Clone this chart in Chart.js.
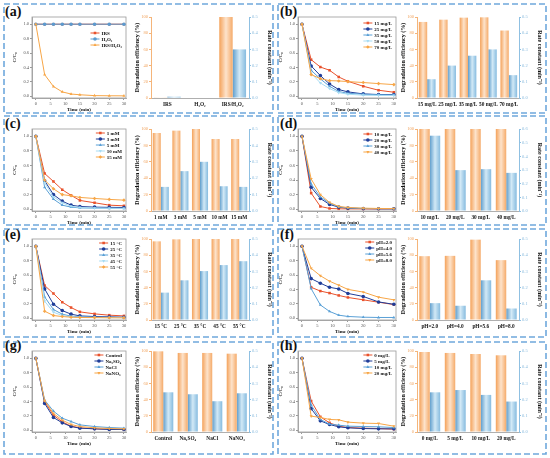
<!DOCTYPE html>
<html>
<head>
<meta charset="utf-8">
<script src="https://cdn.jsdelivr.net/npm/chart.js@4.4.1/dist/chart.umd.min.js"></script>
<style>
  body { margin: 0; width: 550px; height: 458px; background: #fff; position: relative; overflow: hidden; }
  canvas { position: absolute; }
  .tag { position: absolute; font: bold 14px "Liberation Serif", serif; color: #111; line-height: 14px; }
  #frames { position: absolute; left: 0; top: 0; }
</style>
</head>
<body>
<svg id="frames" width="550" height="458"></svg>
<script>
const times = [0, 3, 6, 9, 12, 15, 20, 25, 30];
const timeTicks = [0, 5, 10, 15, 20, 25, 30];
const ratioTicks = [0, 0.2, 0.4, 0.6, 0.8, 1.0];
const effTicks = [0, 20, 40, 60, 80, 100];
const rateTicks5 = [0, 0.1, 0.2, 0.3, 0.4, 0.5];
const rateTicks6 = [0, 0.1, 0.2, 0.3, 0.4, 0.5, 0.6];

// (a)
const aSeries = ['IRS', 'H₂O₂', 'IRS/H₂O₂'];
const aCurves = [
  [1, 1, 1, 1, 1, 1, 1, 1, 1],
  [1, 1, 1, 1, 1, 1, 1, 1, 1],
  [1, 0.30, 0.135, 0.06, 0.03, 0.02, 0.008, 0.006, 0.005]
];
const aEff = [0.8, 0.6, 100];
const aRate = [0.008, 0.003, 0.30];

// (b)
const bSeries = ['15 mg/L', '25 mg/L', '35 mg/L', '50 mg/L', '70 mg/L'];
const bCurves = [
  [1, 0.507, 0.405, 0.36, 0.267, 0.207, 0.138, 0.083, 0.055],
  [1, 0.42, 0.286, 0.17, 0.092, 0.06, 0.032, 0.023, 0.023],
  [1, 0.36, 0.24, 0.138, 0.065, 0.04, 0.028, 0.02, 0.018],
  [1, 0.32, 0.184, 0.106, 0.05, 0.028, 0.014, 0.01, 0.01],
  [1, 0.30, 0.244, 0.216, 0.212, 0.203, 0.19, 0.175, 0.161]
];
const bEff = [93.9, 96.7, 99.2, 99.6, 83.3];
const bRate = [0.116, 0.20, 0.261, 0.30, 0.141];

// (c)
const cSeries = ['1 mM', '3 mM', '5 mM', '10 mM', '15 mM'];
const cCurves = [
  [1, 0.49, 0.38, 0.267, 0.19, 0.12, 0.088, 0.055, 0.046],
  [1, 0.39, 0.20, 0.11, 0.055, 0.037, 0.028, 0.025, 0.023],
  [1, 0.30, 0.138, 0.055, 0.028, 0.018, 0.014, 0.012, 0.012],
  [1, 0.36, 0.17, 0.088, 0.04, 0.023, 0.015, 0.012, 0.01],
  [1, 0.40, 0.28, 0.20, 0.184, 0.161, 0.147, 0.134, 0.124]
];
const cEff = [95.1, 98, 100, 87.8, 87.8];
const cRate = [0.147, 0.243, 0.30, 0.151, 0.147];

// (d)
const dSeries = ['10 mg/L', '20 mg/L', '30 mg/L', '40 mg/L'];
const dCurves = [
  [1, 0.22, 0.037, 0.01, 0.005, 0.004, 0.003, 0.003, 0.003],
  [1, 0.30, 0.147, 0.065, 0.028, 0.014, 0.008, 0.005, 0.005],
  [1, 0.345, 0.17, 0.083, 0.032, 0.018, 0.01, 0.008, 0.006],
  [1, 0.415, 0.20, 0.092, 0.037, 0.023, 0.014, 0.01, 0.008]
];
const dEff = [100, 100, 100, 100];
const dRate = [0.551, 0.299, 0.306, 0.279];

// (e)
const eSeries = ['15 °C', '25 °C', '35 °C', '45 °C', '55 °C'];
const eCurves = [
  [1, 0.454, 0.343, 0.222, 0.148, 0.088, 0.06, 0.042, 0.032],
  [1, 0.407, 0.194, 0.106, 0.056, 0.032, 0.023, 0.019, 0.014],
  [1, 0.296, 0.12, 0.056, 0.028, 0.019, 0.014, 0.012, 0.01],
  [1, 0.236, 0.083, 0.037, 0.019, 0.012, 0.01, 0.008, 0.008],
  [1, 0.097, 0.037, 0.023, 0.014, 0.01, 0.008, 0.006, 0.005]
];
const eEff = [97.1, 99.6, 100, 100, 100];
const eRate = [0.169, 0.245, 0.302, 0.339, 0.363];

// (f)
const fSeries = ['pH=2.0', 'pH=4.0', 'pH=5.6', 'pH=8.0'];
const fCurves = [
  [1, 0.429, 0.377, 0.349, 0.316, 0.288, 0.255, 0.222, 0.189],
  [1, 0.55, 0.486, 0.429, 0.406, 0.344, 0.302, 0.226, 0.193],
  [1, 0.41, 0.184, 0.094, 0.042, 0.024, 0.014, 0.01, 0.01],
  [1, 0.693, 0.59, 0.514, 0.458, 0.40, 0.363, 0.292, 0.255]
];
const fEff = [78.8, 79.2, 99.2, 73.9];
const fRate = [0.104, 0.088, 0.245, 0.071];

// (g)
const gSeries = ['Control', 'Na₂SO₄', 'NaCl', 'NaNO₃'];
const gCurves = [
  [1, 0.395, 0.209, 0.116, 0.056, 0.033, 0.019, 0.014, 0.01],
  [1, 0.372, 0.177, 0.102, 0.051, 0.028, 0.019, 0.01, 0.01],
  [1, 0.419, 0.265, 0.167, 0.121, 0.074, 0.051, 0.037, 0.028],
  [1, 0.41, 0.233, 0.14, 0.079, 0.051, 0.033, 0.023, 0.019]
];
const gEff = [99.6, 97.6, 97.6, 96.7];
const gRate = [0.245, 0.233, 0.19, 0.239];

// (h)
const hSeries = ['0 mg/L', '5 mg/L', '10 mg/L', '20 mg/L'];
const hCurves = [
  [1, 0.405, 0.186, 0.102, 0.056, 0.037, 0.028, 0.023, 0.014],
  [1, 0.30, 0.13, 0.079, 0.047, 0.033, 0.023, 0.019, 0.019],
  [1, 0.349, 0.149, 0.084, 0.07, 0.056, 0.051, 0.047, 0.037],
  [1, 0.195, 0.177, 0.149, 0.144, 0.112, 0.098, 0.093, 0.056]
];
const hEff = [98.8, 97.6, 96.3, 94.7];
const hRate = [0.245, 0.259, 0.229, 0.188];

const SERIF = '"Liberation Serif", "Times New Roman", serif';
Chart.defaults.font.family = SERIF;

const RED = '#e9522c', NAVY = '#1f3d99', SKY = '#5aa0d6', PALE = '#a7dcf3', ORANGE = '#f7a647', MID = '#5b9bd0';
const pal3 = [RED, MID, ORANGE];
const pal4 = [RED, NAVY, SKY, ORANGE];
const pal5 = [RED, NAVY, SKY, PALE, ORANGE];
const mk3 = [['rect', 0], ['circle', 0], ['triangle', 0]];
const mk4 = [['rect', 0], ['circle', 0], ['triangle', 0], ['triangle', 180]];
const mk5 = [['rect', 0], ['circle', 0], ['triangle', 0], ['triangle', 180], ['rectRot', 0]];

const panels = [
  { tag: '(a)', series: aSeries, curves: aCurves, eff: aEff, rate: aRate, rTicks: rateTicks5, col: 0, row: 0, pal: pal3, mk: mk3, legTop: 16 },
  { tag: '(b)', series: bSeries, curves: bCurves, eff: bEff, rate: bRate, rTicks: rateTicks5, col: 1, row: 0, pal: pal5, mk: mk5, legTop: 6 },
  { tag: '(c)', series: cSeries, curves: cCurves, eff: cEff, rate: cRate, rTicks: rateTicks5, col: 0, row: 1, pal: pal5, mk: mk5, legTop: 4 },
  { tag: '(d)', series: dSeries, curves: dCurves, eff: dEff, rate: dRate, rTicks: rateTicks6, col: 1, row: 1, pal: pal4, mk: mk4, legTop: 5 },
  { tag: '(e)', series: eSeries, curves: eCurves, eff: eEff, rate: eRate, rTicks: rateTicks5, col: 0, row: 2, pal: pal5, mk: mk5, legTop: 4 },
  { tag: '(f)', series: fSeries, curves: fCurves, eff: fEff, rate: fRate, rTicks: rateTicks5, col: 1, row: 2, pal: pal4, mk: mk4, legTop: 3 },
  { tag: '(g)', series: gSeries, curves: gCurves, eff: gEff, rate: gRate, rTicks: rateTicks5, col: 0, row: 3, pal: pal4, mk: mk4, legTop: 4 },
  { tag: '(h)', series: hSeries, curves: hCurves, eff: hEff, rate: hRate, rTicks: rateTicks5, col: 1, row: 3, pal: pal4, mk: mk4, legTop: 4 }
];

// layout (page pixels)
const lineCols = [[32, 127], [298, 397]];
const barCols = [[151, 249], [417, 519]];
const plotRows = [[17, 98], [129, 211], [239, 320], [351, 432]];
const frameCols = [[4, 273], [278, 546]];
const frameRows = [[4, 113], [116, 225], [229, 337], [342, 454]];
const tagPos = [[5, 6], [280, 6]];
const tagRows = [5, 117, 228, 339];
const CAT = 0.82;

const boxFrame = {
  id: 'boxFrame',
  beforeDatasetsDraw(chart) {
    const a = chart.chartArea, c = chart.ctx;
    c.save();
    c.strokeStyle = '#9a9a9a';
    c.lineWidth = 0.8;
    c.strokeRect(a.left, a.top, a.right - a.left, a.bottom - a.top);
    c.restore();
  }
};

const inLegend = {
  id: 'inLegend',
  afterDatasetsDraw(chart, args, opts) {
    const { ctx, chartArea } = chart;
    const sets = chart.data.datasets;
    ctx.save();
    ctx.font = 'bold 5px ' + SERIF;
    const tw = Math.max(...sets.map(d => ctx.measureText(d.label).width));
    const x0 = chartArea.right - 3 - tw - 12;
    sets.forEach((d, i) => {
      const y = chartArea.top + opts.top + i * 6;
      ctx.strokeStyle = d.borderColor;
      ctx.lineWidth = 1;
      ctx.beginPath();
      ctx.moveTo(x0, y);
      ctx.lineTo(x0 + 9, y);
      ctx.stroke();
      ctx.fillStyle = d.borderColor;
      Chart.helpers.drawPoint(ctx, { pointStyle: d.pointStyle, radius: 1.8, rotation: d.pointRotation, borderWidth: 0 }, x0 + 4.5, y);
      ctx.fillStyle = '#111';
      ctx.textBaseline = 'middle';
      ctx.fillText(d.label, x0 + 11, y + 0.3);
    });
    ctx.restore();
  }
};

function barFill(c, stops) {
  const chart = c.chart, xs = chart.scales.x;
  if (!xs || c.dataIndex === undefined) return stops[0];
  const mid = xs.getPixelForValue(c.dataIndex);
  const cat = (xs.right - xs.left) / chart.data.labels.length * CAT;
  if (!isFinite(mid) || !isFinite(cat)) return stops[0];
  const x0 = c.datasetIndex === 0 ? mid - cat / 2 : mid;
  const g = chart.ctx.createLinearGradient(x0, 0, x0 + cat / 2, 0);
  g.addColorStop(0, stops[0]);
  g.addColorStop(0.5, stops[1]);
  g.addColorStop(1, stops[2]);
  return g;
}
const orangeStops = ['#f4a25a', '#fde3cb', '#f5ab6a'];
const blueStops = ['#5e9dcc', '#d2e9f6', '#86bbdf'];

function makeCanvas(left, top, w, h) {
  const cv = document.createElement('canvas');
  cv.width = w; cv.height = h;
  cv.style.left = left + 'px'; cv.style.top = top + 'px';
  cv.style.width = w + 'px'; cv.style.height = h + 'px';
  document.body.appendChild(cv);
  return cv;
}

const tickFont = { family: SERIF, size: 4.5 };
const svg = document.getElementById('frames');

panels.forEach(p => {
  const [pt, pb] = plotRows[p.row];

  // dashed panel frame
  const [fx0, fx1] = frameCols[p.col], [fy0, fy1] = frameRows[p.row];
  const r = document.createElementNS('http://www.w3.org/2000/svg', 'rect');
  r.setAttribute('x', fx0); r.setAttribute('y', fy0);
  r.setAttribute('width', fx1 - fx0); r.setAttribute('height', fy1 - fy0);
  r.setAttribute('fill', 'none'); r.setAttribute('stroke', '#6fa8dc');
  r.setAttribute('stroke-width', '1.6'); r.setAttribute('stroke-dasharray', '6 3');
  svg.appendChild(r);

  const tag = document.createElement('div');
  tag.className = 'tag';
  tag.textContent = p.tag;
  tag.style.left = tagPos[p.col][0] + 'px';
  tag.style.top = tagRows[p.row] + 'px';
  document.body.appendChild(tag);

  // kinetics line chart
  const [ll, lr] = lineCols[p.col];
  const lc = makeCanvas(ll - 20, pt - 4, (lr - ll) + 23, (pb - pt) + 20);
  new Chart(lc, {
    type: 'line',
    data: {
      datasets: p.series.map((name, i) => ({
        label: name,
        data: p.curves[i].map((v, k) => ({ x: times[k], y: v })),
        borderColor: p.pal[i],
        backgroundColor: p.pal[i],
        pointBackgroundColor: p.pal[i],
        borderWidth: 1,
        pointRadius: 1.8,
        pointBorderWidth: 0,
        pointStyle: p.mk[i][0],
        pointRotation: p.mk[i][1],
        order: -i
      }))
    },
    options: {
      responsive: false,
      animation: false,
      layout: { padding: { top: 4, right: 3, left: 0, bottom: 0 } },
      plugins: { legend: { display: false }, tooltip: { enabled: false }, inLegend: { top: p.legTop } },
      scales: {
        x: {
          type: 'linear', min: -1.3, max: 30.7,
          afterBuildTicks: s => { s.ticks = timeTicks.map(v => ({ value: v })); },
          afterFit: s => { s.height = 16; },
          ticks: { font: tickFont, color: '#555', padding: 1, maxRotation: 0, autoSkip: false },
          grid: { drawOnChartArea: false, tickLength: 2, color: '#9a9a9a' },
          border: { color: '#9a9a9a', width: 0.8 },
          title: { display: true, text: 'Time (min)', color: '#111', font: { family: SERIF, size: 5, weight: 'bold' }, padding: { top: 0, bottom: 1 } }
        },
        y: {
          type: 'linear', min: -0.025, max: 1.1,
          afterBuildTicks: s => { s.ticks = ratioTicks.map(v => ({ value: v })); },
          afterFit: s => { s.width = 20; },
          ticks: { font: tickFont, color: '#555', padding: 1, callback: v => v.toFixed(1) },
          grid: { drawOnChartArea: false, tickLength: 2, color: '#9a9a9a' },
          border: { color: '#9a9a9a', width: 0.8 },
          title: { display: true, text: 'C/C₀', color: '#111', font: { family: SERIF, size: 5, weight: 'bold' }, padding: { top: 0, bottom: 0 } }
        }
      }
    },
    plugins: [boxFrame, inLegend]
  });

  // efficiency / rate bar chart
  const [bl, br] = barCols[p.col];
  const bc = makeCanvas(bl - 17, pt - 4, (br - bl) + 17 + 24, (pb - pt) + 4 + 12);
  new Chart(bc, {
    type: 'bar',
    data: {
      labels: p.series,
      datasets: [
        { label: 'Degradation efficiency', data: p.eff, yAxisID: 'y', backgroundColor: c => barFill(c, orangeStops), categoryPercentage: CAT, barPercentage: 1.0 },
        { label: 'Rate constant', data: p.rate, yAxisID: 'y1', backgroundColor: c => barFill(c, blueStops), categoryPercentage: CAT, barPercentage: 1.0 }
      ]
    },
    options: {
      responsive: false,
      animation: false,
      layout: { padding: { top: 4, right: 0, left: 0, bottom: 0 } },
      plugins: { legend: { display: false }, tooltip: { enabled: false } },
      scales: {
        x: {
          afterFit: s => { s.height = 12; },
          ticks: { font: { family: SERIF, size: 5.3, weight: 'bold' }, color: '#111', padding: 3, maxRotation: 0, autoSkip: false },
          grid: { display: false, drawTicks: false, tickLength: 0 },
          border: { color: '#9a9a9a', width: 0.8 }
        },
        y: {
          position: 'left', min: 0, max: 100,
          afterBuildTicks: s => { s.ticks = effTicks.map(v => ({ value: v })); },
          afterFit: s => { s.width = 17; },
          ticks: { font: tickFont, color: '#f0a35e', padding: 1 },
          grid: { drawOnChartArea: false, tickLength: 2, color: '#f5b57a' },
          border: { color: '#f5b57a', width: 1 },
          title: { display: true, text: 'Degradation efficiency (%)', color: '#111', font: { family: SERIF, size: 6, weight: 'bold' }, padding: 0 }
        },
        y1: {
          position: 'right', min: 0, max: p.rTicks[p.rTicks.length - 1],
          afterBuildTicks: s => { s.ticks = p.rTicks.map(v => ({ value: v })); },
          afterFit: s => { s.width = 24; },
          ticks: { font: tickFont, color: '#86b9dd', padding: 1, callback: v => v.toFixed(1) },
          grid: { drawOnChartArea: false, tickLength: 2, color: '#8fc0e2' },
          border: { color: '#8fc0e2', width: 1 },
          title: { display: true, text: 'Rate constant (min⁻¹)', color: '#111', font: { family: SERIF, size: 6, weight: 'bold' }, padding: 0 }
        }
      }
    }
  });
});
</script>
</body>
</html>
